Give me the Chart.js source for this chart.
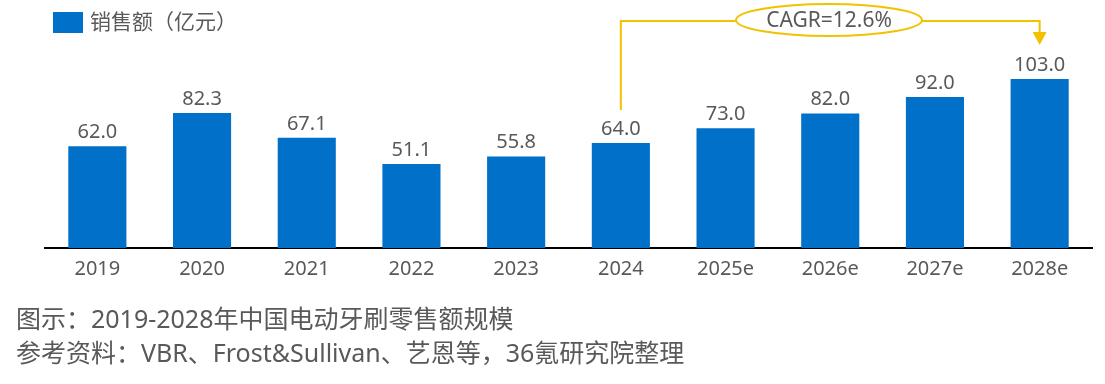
<!DOCTYPE html>
<html>
<head>
<meta charset="utf-8">
<script src="https://cdn.jsdelivr.net/npm/chart.js@4/dist/chart.umd.min.js"></script>
<style>
  html, body { margin: 0; padding: 0; background: #fff; }
  #wrap { position: relative; width: 1105px; height: 384px; }
  #note {
    position: absolute; left: 16px; top: 301px;
    font-family: "Noto Sans", "Noto Sans CJK SC", sans-serif;
    font-size: 25px; line-height: 34px; color: #595959;
    white-space: nowrap;
  }
</style>
</head>
<body>
<div id="wrap">
  <canvas id="chart" width="1105" height="384"></canvas>
  <div id="note">
    图示：2019-2028年中国电动牙刷零售额规模<br>
    参考资料：VBR、Frost&amp;Sullivan、艺恩等，36氪研究院整理
  </div>
</div>
<script>
  // ── Data ───────────────────────────────────────────────────
  const years  = ["2019", "2020", "2021", "2022", "2023", "2024", "2025e", "2026e", "2027e", "2028e"];
  const sales  = [62.0, 82.3, 67.1, 51.1, 55.8, 64.0, 73.0, 82.0, 92.0, 103.0];
  const seriesName = "销售额（亿元）";
  const cagrText = "CAGR=12.6%";
  const cagrFrom = 5;   // 2024
  const cagrTo   = 9;   // 2028e

  const FONT = '"Noto Sans", "Noto Sans CJK SC", sans-serif';
  const GREY = "#595959";
  const BLUE = "#0070c9";
  const GOLD = "#f2c200";

  // ── Plugin: legend, value labels, CAGR bracket ─────────────
  const extras = {
    id: "extras",
    afterDatasetsDraw(chart) {
      const ctx = chart.ctx;
      const meta = chart.getDatasetMeta(0);
      const ds = chart.data.datasets[0];

      ctx.save();
      // legend
      ctx.fillStyle = ds.backgroundColor;
      ctx.fillRect(53, 12, 30, 21);
      ctx.fillStyle = GREY;
      ctx.font = "21px " + FONT;
      ctx.textBaseline = "middle";
      ctx.textAlign = "left";
      ctx.fillText(ds.label, 90, 23);

      // value labels
      ctx.font = "20px " + FONT;
      ctx.textAlign = "center";
      ctx.textBaseline = "alphabetic";
      meta.data.forEach((bar, i) => {
        ctx.fillText(ds.data[i].toFixed(1), bar.x, bar.y - 8);
      });

      // CAGR bracket
      const a = meta.data[cagrFrom], b = meta.data[cagrTo];
      const lineY = 21;
      ctx.strokeStyle = GOLD;
      ctx.lineWidth = 2;
      ctx.beginPath();
      ctx.moveTo(a.x, a.y - 33);
      ctx.lineTo(a.x, lineY);
      ctx.lineTo(b.x, lineY);
      ctx.lineTo(b.x, b.y - 46);
      ctx.stroke();
      ctx.fillStyle = GOLD;
      ctx.beginPath();
      ctx.moveTo(b.x - 7, b.y - 47);
      ctx.lineTo(b.x + 7, b.y - 47);
      ctx.lineTo(b.x, b.y - 34);
      ctx.closePath();
      ctx.fill();

      const cx = 829, cy = 20;
      ctx.beginPath();
      ctx.ellipse(cx, cy, 93, 16, 0, 0, Math.PI * 2);
      ctx.fillStyle = "#fff";
      ctx.fill();
      ctx.stroke();
      ctx.fillStyle = GREY;
      ctx.font = "21px " + FONT;
      ctx.textBaseline = "middle";
      ctx.fillText(cagrText, cx, cy + 1);
      ctx.restore();
    }
  };

  // ── Chart ──────────────────────────────────────────────────
  new Chart(document.getElementById("chart"), {
    type: "bar",
    data: {
      labels: years,
      datasets: [{
        label: seriesName,
        data: sales,
        backgroundColor: BLUE,
        barPercentage: 0.555,
        categoryPercentage: 1.0,
      }],
    },
    options: {
      responsive: false,
      animation: false,
      layout: { padding: { left: 45, right: 13, top: 51, bottom: 0 } },
      plugins: { legend: { display: false }, tooltip: { enabled: false } },
      scales: {
        x: {
          grid: { display: false },
          border: { display: true, color: "#000", width: 2 },
          ticks: { color: GREY, font: { family: FONT, size: 20 }, padding: 1 },
          afterFit(scale) { scale.height = 384 - 248; },
        },
        y: { display: false, min: 0, max: 120 },
      },
    },
    plugins: [extras],
  });
</script>
</body>
</html>
